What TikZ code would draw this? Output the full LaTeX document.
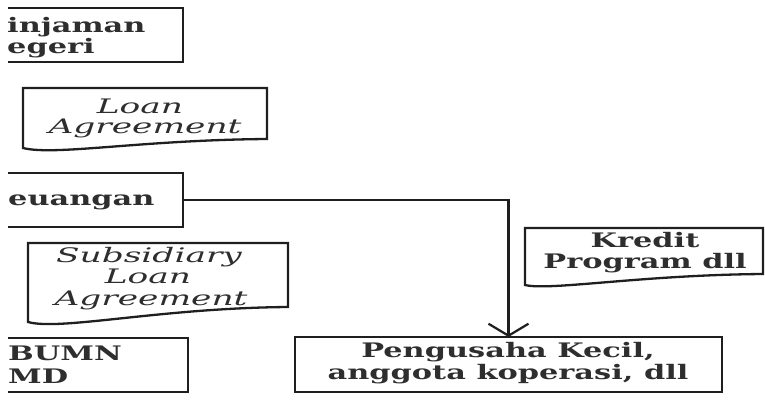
\documentclass[tikz,border=0pt]{standalone}
\usepackage{fontspec}
\setmainfont{DejaVu Serif}[FakeStretch=1.52]
\newfontfamily\docit{DejaVu Serif Italic}[FakeStretch=1.72]
\usetikzlibrary{arrows.meta}
\begin{document}
\begin{tikzpicture}[x=1pt,y=-1pt,
  box/.style={draw=black!88, line width=2.3pt, inner sep=0pt, outer sep=0pt},
  bt/.style={font=\bfseries\fontsize{20}{21}\selectfont, text=black!82, anchor=base, inner sep=0pt},
  it/.style={font=\docit\fontsize{20}{21}\selectfont, text=black!82, anchor=base, inner sep=0pt},
  doc/.style={draw=black!88, line width=2.3pt, line join=miter},
  conn/.style={draw=black!88, line width=2.2pt, -{Straight Barb[length=12pt,width=40pt,line width=2.2pt]}}]
\useasboundingbox (0,0) rectangle (765,399);
\clip (8,-5) rectangle (770,404);
% boxes
\node[box, minimum width=213pt, minimum height=54pt] (pinj) at (76.5,35) {};
\node[bt, anchor=base west] (pinj1) at (7,32) {injaman};
\node[bt, anchor=base west] (pinj2) at (7,53) {egeri};
\node[box, minimum width=213pt, minimum height=54pt] (keu) at (76.5,200) {};
\node[bt, anchor=base west] (keu1) at (8,205) {euangan};
\node[box, minimum width=218pt, minimum height=54pt] (bumn) at (79,365) {};
\node[bt, anchor=base west] (bumn1) at (8,360) {BUMN};
\node[bt, anchor=base west] (bumn2) at (8,383) {MD};
\node[box, minimum width=427pt, minimum height=55pt] (peng) at (508.5,364.5) {};
\node[bt] (peng1) at (508,357) {Pengusaha Kecil,};
\node[bt] (peng2) at (508,379) {anggota koperasi, dll};
% documents
\draw[doc] (23,148) -- (23,88) -- (267,88) -- (267,139) .. controls (140,140) and (55,156) .. (23,148) -- cycle;
\node[it] (loan1) at (140,113) {Loan};
\node[it] (loan2) at (145,133) {Agreement};
\draw[doc] (28,322) -- (28,243) -- (288,243) -- (288,307) .. controls (160,308) and (60,331) .. (28,322) -- cycle;
\node[it] (sub1) at (149,262) {Subsidiary};
\node[it] (sub2) at (148,283) {Loan};
\node[it] (sub3) at (151,305) {Agreement};
\draw[doc] (525,285) -- (525,228) -- (763,228) -- (763,274) .. controls (640,275) and (550,291) .. (525,285) -- cycle;
\node[bt] (kre1) at (645,247) {Kredit};
\node[bt] (kre2) at (645,268) {Program dll};
% connector
\draw[conn] (keu.east) -| (peng.north);
\end{tikzpicture}
\end{document}
